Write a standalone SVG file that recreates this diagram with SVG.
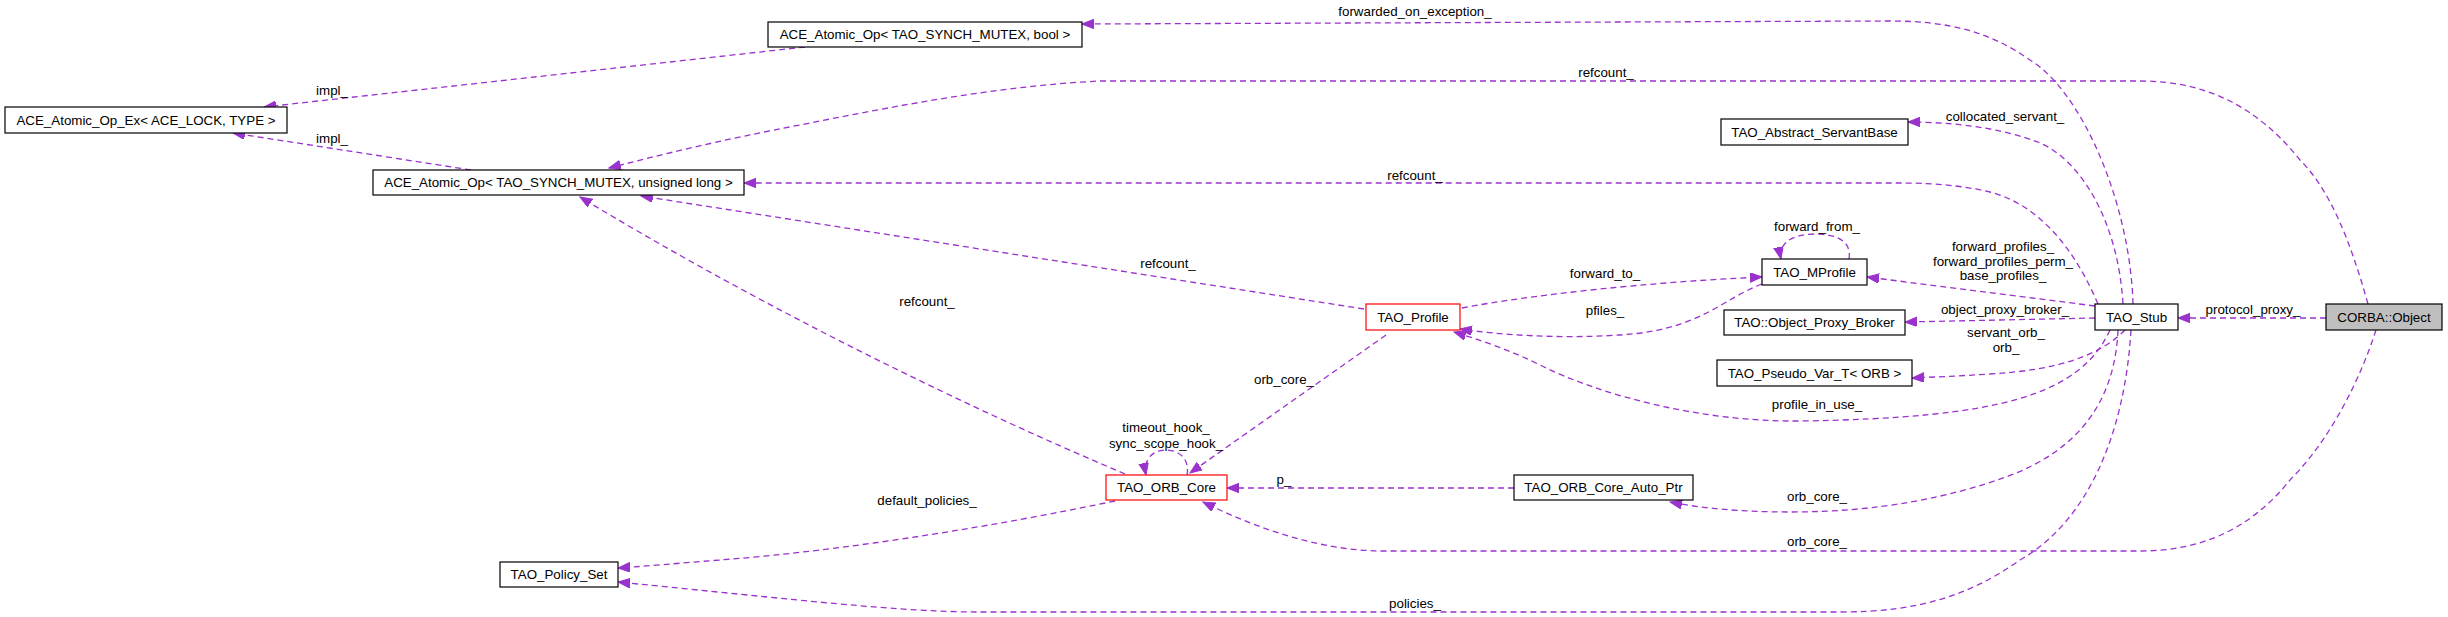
<svg xmlns="http://www.w3.org/2000/svg" width="2448" height="617" viewBox="0 0 2448 617">
<style>
text{font-family:"Liberation Sans",Arial,sans-serif;font-size:13.33px;fill:#000;text-anchor:middle}
.n rect{fill:#fff;stroke:#000;stroke-width:1.2}
.n.red rect{stroke:#ff0000}
.n.root rect{fill:#bfbfbf}
.e path{fill:none;stroke:#9a32cd;stroke-width:1.3;stroke-dasharray:6,4;marker-end:url(#ah)}
</style>
<defs>
<marker id="ah" markerUnits="userSpaceOnUse" markerWidth="13" markerHeight="11" refX="12" refY="4.75" orient="auto">
<path d="M0,0 L12,4.75 L0,9.5 z" fill="#9a32cd" stroke="#9a32cd" stroke-width="1"/>
</marker>
</defs>
<rect width="2448" height="617" fill="#fff"/>
<g id="edges" class="e">
<path d="M805,47 L264,107"/>
<path d="M471,170 L233,133"/>
<path d="M2133,304 C2130,200 2080,90 2030,60 C1990,32 1950,21 1890,21 L1082,24"/>
<path d="M2368,304 C2350,240 2330,190 2300,160 C2260,110 2210,81 2140,81 L1100,81 C1000,86 900,105 800,125 C720,140 660,155 609,168"/>
<path d="M2098,304 C2075,250 2040,205 1990,192 C1960,185 1930,183 1900,183 L744,183"/>
<path d="M2123,304 C2118,220 2080,160 2040,143 C2000,127 1950,122 1908,122"/>
<path d="M1364,309 L641,196"/>
<path d="M1125,474 C950,400 750,300 580,197"/>
<path d="M1462,308 C1530,295 1650,282 1762,277"/>
<path d="M1762,284 C1720,300 1700,330 1620,335 C1560,339 1500,335 1460,329"/>
<path d="M1849,259 C1852,240 1835,234 1815,234 C1790,234 1778,245 1781,259"/>
<path d="M2095,306 L1867,277"/>
<path d="M2095,318 L1905,322"/>
<path d="M2125,330 C2100,355 2060,370 1990,374 C1960,376 1935,377 1912,378"/>
<path d="M2110,330 C2080,395 2000,418 1800,421 C1700,422 1600,395 1540,365 C1510,350 1480,340 1454,332"/>
<path d="M1514,488 L1227,488"/>
<path d="M2118,330 C2115,400 2080,450 2006,477 C1950,497 1880,512 1790,512 C1740,512 1700,508 1670,502"/>
<path d="M2376,330 C2360,380 2330,440 2290,480 C2250,530 2200,551 2140,551 L1380,551 C1320,550 1260,530 1203,502"/>
<path d="M2131,330 C2125,430 2090,520 2020,560 C1970,595 1920,612 1840,612 L980,612 C900,612 800,600 618,582"/>
<path d="M1115,501 C1000,525 850,550 720,560 C680,563 650,566 618,568"/>
<path d="M1386,335 L1190,473"/>
<path d="M1187,475 C1190,460 1180,450 1166,450 C1152,450 1143,460 1146,475"/>
<path d="M2326,318 L2178,318"/>
</g>
<g id="edge-labels">
<text x="332" y="95">impl_</text>
<text x="332" y="143">impl_</text>
<text x="1415" y="16">forwarded_on_exception_</text>
<text x="1606" y="77">refcount_</text>
<text x="1415" y="180">refcount_</text>
<text x="2005" y="121">collocated_servant_</text>
<text x="1168" y="268">refcount_</text>
<text x="927" y="306">refcount_</text>
<text x="1605" y="278">forward_to_</text>
<text x="1605" y="315">pfiles_</text>
<text x="1817" y="231">forward_from_</text>
<text x="2003" y="251">forward_profiles_</text>
<text x="2003" y="265.5">forward_profiles_perm_</text>
<text x="2003" y="280">base_profiles_</text>
<text x="2005" y="314">object_proxy_broker_</text>
<text x="2006" y="337">servant_orb_</text>
<text x="2006" y="352">orb_</text>
<text x="1817" y="409">profile_in_use_</text>
<text x="1284" y="484">p_</text>
<text x="1817" y="501">orb_core_</text>
<text x="1817" y="546">orb_core_</text>
<text x="1415" y="608">policies_</text>
<text x="927" y="505">default_policies_</text>
<text x="1284" y="384">orb_core_</text>
<text x="1166" y="432">timeout_hook_</text>
<text x="1166" y="448">sync_scope_hook_</text>
<text x="2253" y="314">protocol_proxy_</text>
</g>
<g id="n_ex" class="n"><rect x="5" y="107" width="282" height="26"/><text x="146" y="124.5">ACE_Atomic_Op_Ex&lt; ACE_LOCK, TYPE &gt;</text></g>
<g id="n_ulong" class="n"><rect x="373" y="170" width="371" height="25"/><text x="558.5" y="187">ACE_Atomic_Op&lt; TAO_SYNCH_MUTEX, unsigned long &gt;</text></g>
<g id="n_bool" class="n"><rect x="768" y="22" width="314" height="25"/><text x="925" y="39">ACE_Atomic_Op&lt; TAO_SYNCH_MUTEX, bool &gt;</text></g>
<g id="n_servant" class="n"><rect x="1721" y="119" width="187" height="26"/><text x="1814.5" y="136.5">TAO_Abstract_ServantBase</text></g>
<g id="n_mprofile" class="n"><rect x="1762" y="259" width="105" height="26"/><text x="1814.5" y="276.5">TAO_MProfile</text></g>
<g id="n_broker" class="n"><rect x="1724" y="310" width="181" height="25"/><text x="1814.5" y="327">TAO::Object_Proxy_Broker</text></g>
<g id="n_pseudo" class="n"><rect x="1717" y="360" width="195" height="26"/><text x="1814.5" y="377.5">TAO_Pseudo_Var_T&lt; ORB &gt;</text></g>
<g id="n_stub" class="n"><rect x="2095" y="304" width="83" height="26"/><text x="2136.5" y="321.5">TAO_Stub</text></g>
<g id="n_corba" class="n root"><rect x="2326" y="304" width="116" height="26"/><text x="2384" y="321.5">CORBA::Object</text></g>
<g id="n_profile" class="n red"><rect x="1366" y="304" width="94" height="26"/><text x="1413" y="321.5">TAO_Profile</text></g>
<g id="n_orbcore" class="n red"><rect x="1106" y="475" width="121" height="25"/><text x="1166.5" y="492">TAO_ORB_Core</text></g>
<g id="n_autoptr" class="n"><rect x="1514" y="475" width="179" height="25"/><text x="1603.5" y="492">TAO_ORB_Core_Auto_Ptr</text></g>
<g id="n_policy" class="n"><rect x="500" y="562" width="118" height="25"/><text x="559" y="579">TAO_Policy_Set</text></g>
</svg>
